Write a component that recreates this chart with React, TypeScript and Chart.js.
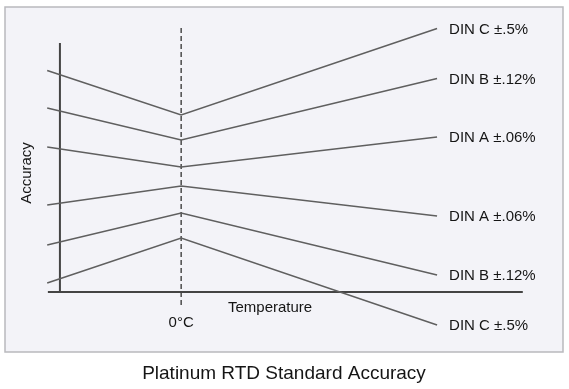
import React, { useEffect, useRef } from "react";
import { Chart, registerables } from "chart.js";

Chart.register(...registerables);

// Temperature positions (schematic): low end, 0°C, high end
const temperatures = [-200, 0, 382];

// Schematic relative tolerance band edges (upper/lower) per class
const dinCUpper = [1.06, 0.615, 1.48];
const dinBUpper = [0.685, 0.365, 0.98];
const dinAUpper = [0.295, 0.095, 0.395];
const dinALower = [-0.285, -0.095, -0.395];
const dinBLower = [-0.685, -0.365, -0.985];
const dinCLower = [-1.065, -0.615, -1.485];

const seriesLabels = [
  "DIN C ±.5%",
  "DIN B ±.12%",
  "DIN A ±.06%",
  "DIN A ±.06%",
  "DIN B ±.12%",
  "DIN C ±.5%",
];

// Axis frame (in data units)
const xRange = [-263, 570];
const yRange = [-1.755, 1.695];
const yAxisX = -181;
const yAxisSpan = [1.335, -1.155];
const xAxisY = -1.155;
const xAxisSpan = [-199, 510];
const zeroLineSpan = [1.485, -1.305];

const xTitle = "Temperature";
const yTitle = "Accuracy";
const zeroLabel = "0°C";
const chartTitle = "Platinum RTD Standard Accuracy";

const FONT = "Arial, 'Liberation Sans', sans-serif";

export default function App() {
  const ref = useRef<HTMLCanvasElement | null>(null);

  useEffect(() => {
    if (!ref.current) return;
    const series = [dinCUpper, dinBUpper, dinAUpper, dinALower, dinBLower, dinCLower];

    const dataSets: any[] = series.map((vals, i) => ({
      label: seriesLabels[i],
      data: vals.map((v, j) => ({ x: temperatures[j], y: v })),
      borderColor: "#5f5f5f",
      borderWidth: 1.6,
      pointRadius: 0,
      tension: 0,
    }));

    dataSets.push({
      label: "yAxis",
      data: [
        { x: yAxisX, y: yAxisSpan[0] },
        { x: yAxisX, y: yAxisSpan[1] },
      ],
      borderColor: "#444444",
      borderWidth: 2,
      pointRadius: 0,
    });
    dataSets.push({
      label: "xAxis",
      data: [
        { x: xAxisSpan[0], y: xAxisY },
        { x: xAxisSpan[1], y: xAxisY },
      ],
      borderColor: "#444444",
      borderWidth: 2,
      pointRadius: 0,
    });
    dataSets.push({
      label: "zero",
      data: [
        { x: 0, y: zeroLineSpan[0] },
        { x: 0, y: zeroLineSpan[1] },
      ],
      borderColor: "#555555",
      borderWidth: 1.6,
      borderDash: [5, 3],
      pointRadius: 0,
    });

    const decor = {
      id: "decor",
      beforeDraw(chart: any) {
        const { ctx, chartArea } = chart;
        ctx.save();
        ctx.fillStyle = "#f3f3f8";
        ctx.fillRect(chartArea.left, chartArea.top, chartArea.right - chartArea.left, chartArea.bottom - chartArea.top);
        ctx.strokeStyle = "#b9b9bd";
        ctx.lineWidth = 1.5;
        ctx.strokeRect(chartArea.left, chartArea.top, chartArea.right - chartArea.left, chartArea.bottom - chartArea.top);
        ctx.restore();
      },
      afterDraw(chart: any) {
        const { ctx, scales } = chart;
        const xs = scales.x;
        const ys = scales.y;
        ctx.save();
        ctx.fillStyle = "#151515";
        ctx.textBaseline = "middle";
        ctx.font = `15px ${FONT}`;
        ctx.textAlign = "left";
        series.forEach((vals, i) => {
          const px = xs.getPixelForValue(temperatures[temperatures.length - 1]) + 12;
          const py = ys.getPixelForValue(vals[vals.length - 1]) + 1;
          ctx.fillText(seriesLabels[i], px, py);
        });
        ctx.fillText(xTitle, 228, ys.getPixelForValue(xAxisY) + 16);
        ctx.textAlign = "center";
        ctx.fillText(zeroLabel, xs.getPixelForValue(0), ys.getPixelForValue(xAxisY) + 31);
        ctx.save();
        ctx.translate(27, 173);
        ctx.rotate(-Math.PI / 2);
        ctx.fillText(yTitle, 0, 0);
        ctx.restore();
        ctx.font = `19px ${FONT}`;
        ctx.fillText(chartTitle, 284, 374);
        ctx.restore();
      },
    };

    const chart = new Chart(ref.current, {
      type: "line",
      data: { datasets: dataSets },
      options: {
        animation: false,
        responsive: false,
        maintainAspectRatio: false,
        layout: { padding: { left: 5, right: 6, top: 7, bottom: 37 } },
        plugins: { legend: { display: false }, tooltip: { enabled: false }, title: { display: false } },
        scales: {
          x: { type: "linear", display: false, min: xRange[0], max: xRange[1] },
          y: { type: "linear", display: false, min: yRange[0], max: yRange[1] },
        },
      },
      plugins: [decor],
    });
    return () => chart.destroy();
  }, []);

  return (
    <div style={{ position: "fixed", left: 0, top: 0, width: 569, height: 389, background: "#ffffff" }}>
      <canvas ref={ref} width={569} height={389} style={{ width: 569, height: 389, display: "block" }} />
    </div>
  );
}
